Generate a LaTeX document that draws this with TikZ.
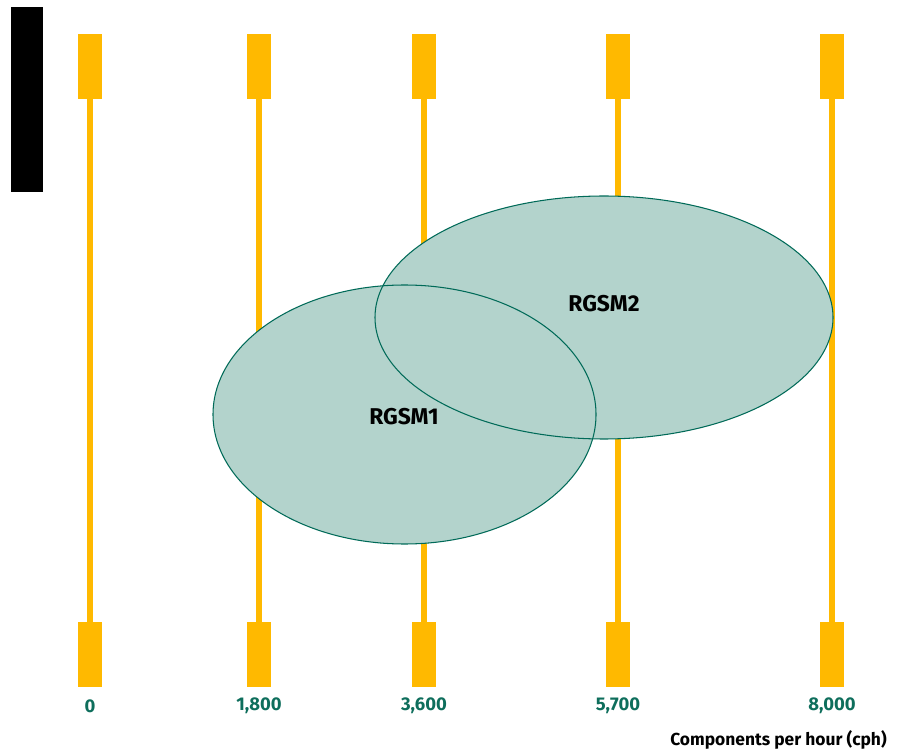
\documentclass[tikz,border=0pt]{standalone}
\usepackage{fontspec}
\setmainfont{Fira Sans}

\definecolor{barYellow}{HTML}{FFB900}
\definecolor{blobFill}{HTML}{B3D3CC}
\definecolor{blobLine}{HTML}{006A58}
\definecolor{tickText}{HTML}{0E6E5C}

\begin{document}
\begin{tikzpicture}[x=0.02cm,y=-0.02cm,
    endblock/.style={fill=barYellow},
    rod/.style={draw=barYellow,line width=1.2mm},
    blob/.style={fill=blobFill},
    rim/.style={draw=blobLine,line width=0.6pt},
    ticklab/.style={text=tickText,font=\fontsize{10.5}{12}\selectfont\bfseries},
    blobname/.style={font=\fontsize{13}{15}\selectfont\bfseries}]
                \useasboundingbox (0,0) rectangle (902,749);

                % black tab
                \fill[black] (11,7) rectangle (43,192);

                % speed bars
                \foreach \x/\val/\nm in {90/0/zero,259/{1,800}/one,424/{3,600}/two,618/{5,700}/three,832/{8,000}/four} {
                    \draw[rod] (\x,99) -- (\x,622);
                    \fill[endblock] (\x-12,34) rectangle (\x+12,99);
                    \fill[endblock] (\x-12,622) rectangle (\x+12,687);
                    \node[ticklab] (tick-\nm) at (\x,706) {\val};
                }

                \node[ticklab,text=black,font=\fontsize{9.9}{12}\selectfont\bfseries,anchor=east,inner sep=0pt] (unit) at (887,740) {Components per hour (cph)};

                % ranges
                \fill[blob] (404.5,414.5) ellipse[x radius=191.5, y radius=129.5];
                \fill[blob] (604,317.5) ellipse[x radius=229, y radius=121.5];
                \draw[rim] (404.5,414.5) ellipse[x radius=191.5, y radius=129.5];
                \draw[rim] (604,317.5) ellipse[x radius=229, y radius=121.5];

                \node[blobname] (rgsm1) at (404,417) {RGSM1};
                \node[blobname] (rgsm2) at (604,304) {RGSM2};
            \end{tikzpicture}
\end{document}
